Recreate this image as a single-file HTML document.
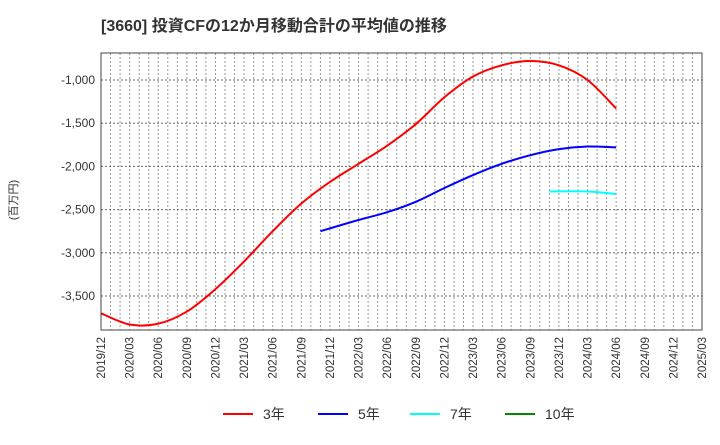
<!DOCTYPE html>
<html><head><meta charset="utf-8"><style>
body{margin:0;background:#fff}
svg text{font-family:"Liberation Sans","Noto Sans CJK JP",sans-serif;fill:#333}
</style></head><body>
<svg width="720" height="440" xmlns="http://www.w3.org/2000/svg" id="c">
<text x="101" y="31" font-size="16" font-weight="bold">[3660]  投資CFの12か月移動合計の平均値の推移</text>
<text transform="translate(17,200) rotate(-90)" font-size="11" text-anchor="middle">(百万円)</text>
<g id="grid"></g><g id="series"></g>
<rect x="101" y="53" width="601" height="277" fill="none" stroke="#444" stroke-width="1"/>
<g id="legend"></g>
</svg>
<script>
const yTicks=[-1000,-1500,-2000,-2500,-3000,-3500];
const yTickLabels=["-1,000","-1,500","-2,000","-2,500","-3,000","-3,500"];
const xTickLabels=["2019/12","2020/03","2020/06","2020/09","2020/12","2021/03","2021/06","2021/09","2021/12","2022/03","2022/06","2022/09","2022/12","2023/03","2023/06","2023/09","2023/12","2024/03","2024/06","2024/09","2024/12","2025/03"];
const s3Months=[0,3,6,9,12,15,18,21,24,27,30,33,36,39,42,45,48,51,54];
const s3Values=[-3700,-3830,-3820,-3680,-3420,-3100,-2750,-2430,-2180,-1970,-1760,-1510,-1200,-960,-830,-780,-830,-1000,-1330];
const s5Months=[23,27,30,33,36,39,42,45,48,51,54];
const s5Values=[-2750,-2620,-2530,-2410,-2250,-2100,-1970,-1870,-1800,-1770,-1780];
const s7Months=[47,51,54];
const s7Values=[-2290,-2290,-2320];
const NS="http://www.w3.org/2000/svg";
const L=101,R=702,T=53,B=330;
const xs=m=>L+m*(R-L)/63;
const ys=v=>80+(v+1000)*(43.2/-500);
function el(t,a,p){const e=document.createElementNS(NS,t);for(const k in a)e.setAttribute(k,a[k]);p.appendChild(e);return e;}
const g=document.getElementById('grid');
for(let m=1;m<63;m++){const l=el('line',{x1:xs(m),x2:xs(m),y1:T,y2:B,stroke:'#999','stroke-dasharray':'2,2','stroke-width':1},g);
}
yTicks.forEach((v,i)=>{const l=el('line',{x1:L,x2:R,y1:ys(v),y2:ys(v),stroke:'#666','stroke-dasharray':'2,2'},g);

const t=el('text',{x:L-6,y:ys(v)+4,'font-size':12,'text-anchor':'end'},g);t.textContent=yTickLabels[i];
});
xTickLabels.forEach((s,i)=>{const x=xs(i*3);const t=el('text',{transform:`translate(${x+4},337) rotate(-90)`,'font-size':11.5,'text-anchor':'end'},g);t.textContent=s;
});
function path(ms,vs){const p=ms.map((m,i)=>[xs(m),ys(vs[i])]);let d=`M${p[0][0]},${p[0][1]}`;
for(let i=0;i<p.length-1;i++){const p0=p[i-1]||p[i],p1=p[i],p2=p[i+1],p3=p[i+2]||p2;
d+=`C${p1[0]+(p2[0]-p0[0])/6},${p1[1]+(p2[1]-p0[1])/6} ${p2[0]-(p3[0]-p1[0])/6},${p2[1]-(p3[1]-p1[1])/6} ${p2[0]},${p2[1]}`;}return d;}
const sg=document.getElementById('series');
[[s3Months,s3Values,'#f00','series-3y'],[s5Months,s5Values,'#00f','series-5y'],[s7Months,s7Values,'#0ff','series-7y']].forEach(([m,v,c,n])=>{
const p=el('path',{d:path(m,v),fill:'none',stroke:c,'stroke-width':2},sg);});
const lg=document.getElementById('legend');
[['3年','#f00',223],['5年','#00f',318],['7年','#0ff',410],['10年','#080',505]].forEach(([s,c,x])=>{
const l=el('line',{x1:x,x2:x+30,y1:414,y2:414,stroke:c,'stroke-width':2},lg);
const t=el('text',{x:x+40,y:419,'font-size':14},lg);t.textContent=s;});
</script>
</body></html>
